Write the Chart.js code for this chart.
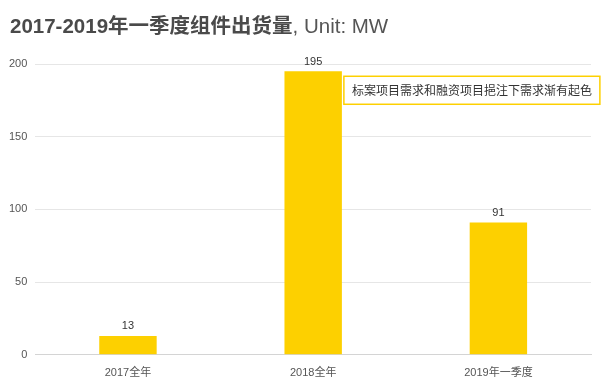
<!DOCTYPE html>
<html>
<head>
<meta charset="utf-8">
<script src="https://cdn.jsdelivr.net/npm/chart.js@4/dist/chart.umd.min.js"></script>
<style>
  html, body { margin: 0; padding: 0; background: #fff; }
  #wrap { position: relative; width: 609px; height: 384px; }
  #title { position: absolute; left: 10px; top: 9px; font-family: "Liberation Sans", Arial, "Noto Sans CJK SC", sans-serif; font-size: 20.5px; color: #555; white-space: nowrap; }
  #title b { font-weight: bold; color: #4a4a4a; }
  canvas { position: absolute; left: 0; top: 0; }
</style>
</head>
<body>
<div id="wrap">
  <canvas id="c" width="609" height="384"></canvas>
  <div id="title"><b>2017-2019年一季度组件出货量</b>, Unit: MW</div>
</div>
<script>
const categories = ["2017全年", "2018全年", "2019年一季度"];
const shipments = [13, 195, 91];
const yTicks = [0, 50, 100, 150, 200];
const noteText = "标案项目需求和融资项目挹注下需求渐有起色";
const noteIndex = 1;

const FONT = '"Liberation Sans", Arial, "Noto Sans CJK SC", sans-serif';
const YELLOW = '#FDD000';

const valueLabels = {
  id: 'valueLabels',
  afterDatasetsDraw(chart) {
    const ctx = chart.ctx;
    const meta = chart.getDatasetMeta(0);
    ctx.save();
    ctx.font = '11px ' + FONT;
    ctx.fillStyle = '#333';
    ctx.textAlign = 'center';
    ctx.textBaseline = 'bottom';
    meta.data.forEach((bar, i) => {
      ctx.fillText(String(shipments[i]), bar.x, bar.y - 4);
    });
    // annotation box next to the 2018 bar
    const bar = meta.data[noteIndex];
    const left = bar.x + bar.width / 2 + 2;
    const top = bar.y + 5;
    const w = 256, h = 28;
    ctx.fillStyle = '#fff';
    ctx.fillRect(left, top, w, h);
    ctx.strokeStyle = YELLOW;
    ctx.lineWidth = 1.5;
    ctx.strokeRect(left, top, w, h);
    ctx.font = '12px "Noto Sans CJK SC", ' + FONT;
    ctx.fillStyle = '#333';
    ctx.textAlign = 'center';
    ctx.textBaseline = 'middle';
    ctx.fillText(noteText, left + w / 2, top + h / 2);
    ctx.restore();
  }
};

new Chart(document.getElementById('c'), {
  type: 'bar',
  data: {
    labels: categories,
    datasets: [{
      data: shipments,
      backgroundColor: YELLOW,
      borderWidth: 0,
      categoryPercentage: 1,
      barPercentage: 0.31
    }]
  },
  options: {
    responsive: false,
    animation: false,
    devicePixelRatio: 1,
    layout: { padding: { left: 1, right: 18, top: 64, bottom: 0 } },
    plugins: { legend: { display: false }, title: { display: false }, tooltip: { enabled: false } },
    scales: {
      x: {
        grid: { display: false },
        border: { display: true, color: '#d4d4d4', width: 1 },
        ticks: { color: '#555', font: { size: 11, family: FONT }, padding: 4 }
      },
      y: {
        min: 0, max: 200,
        afterBuildTicks(scale) { scale.ticks = yTicks.map(v => ({ value: v })); },
        border: { display: false },
        grid: { color: ctx => ctx.tick && ctx.tick.value === 0 ? '#d4d4d4' : '#e6e6e6', drawTicks: false, lineWidth: 1 },
        ticks: { color: '#555', font: { size: 11, family: FONT }, padding: 8 }
      }
    }
  },
  plugins: [valueLabels]
});
</script>
</body>
</html>
